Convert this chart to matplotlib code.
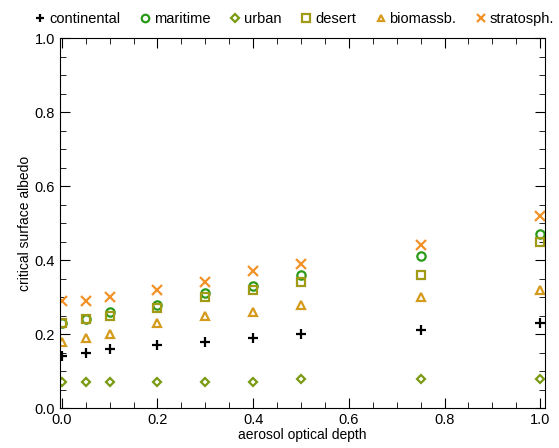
import matplotlib
matplotlib.use("Agg")
import matplotlib.pyplot as plt
from matplotlib.ticker import MultipleLocator

plt.rcParams['font.family'] = ['Liberation Sans', 'DejaVu Sans']
plt.rcParams['font.size'] = 10

aod = [0.0, 0.05, 0.1, 0.2, 0.3, 0.4, 0.5, 0.75, 1.0]
continental = [0.14, 0.15, 0.16, 0.17, 0.18, 0.19, 0.20, 0.21, 0.23]
maritime = [0.23, 0.24, 0.26, 0.28, 0.31, 0.33, 0.36, 0.41, 0.47]
urban = [0.07, 0.07, 0.07, 0.07, 0.07, 0.07, 0.08, 0.08, 0.08]
desert = [0.23, 0.24, 0.25, 0.27, 0.30, 0.32, 0.34, 0.36, 0.45]
biomassb = [0.18, 0.19, 0.20, 0.23, 0.25, 0.26, 0.28, 0.30, 0.32]
stratosph = [0.29, 0.29, 0.30, 0.32, 0.34, 0.37, 0.39, 0.44, 0.52]

# name, values, marker, colour, size
series = [
    ("continental", continental, "+", "black", 7),
    ("maritime", maritime, "o", "#2a9a18", 6),
    ("urban", urban, "D", "#7a9a12", 4.5),
    ("desert", desert, "s", "#a09a14", 6),
    ("biomassb.", biomassb, "^", "#d49a1c", 5.5),
    ("stratosph.", stratosph, "x", "#f29228", 6.5),
]

fig = plt.figure(figsize=(5.59, 4.48), dpi=100)
ax = fig.add_axes([0.107, 0.089, 0.868, 0.826])

for name, vals, m, c, ms in series:
    if m in ("+", "x"):
        ax.plot(aod, vals, linestyle="none", marker=m, color=c, markersize=ms,
                markeredgewidth=1.6, label=name)
    else:
        ax.plot(aod, vals, linestyle="none", marker=m, markerfacecolor="none",
                markeredgecolor=c, markersize=ms, markeredgewidth=1.6, label=name)

ax.set_xlim(-0.004, 1.01)
ax.set_ylim(0, 1.0)
ax.xaxis.set_major_locator(MultipleLocator(0.2))
ax.xaxis.set_minor_locator(MultipleLocator(0.05))
ax.yaxis.set_major_locator(MultipleLocator(0.2))
ax.yaxis.set_minor_locator(MultipleLocator(0.05))
ax.tick_params(which="both", direction="in", top=True, right=True)
ax.tick_params(which="major", length=7, labelsize=10.5)
ax.tick_params(which="minor", length=4)
ax.set_xticklabels([f"{v:.1f}" for v in ax.get_xticks()])
ax.set_yticklabels([f"{v:.1f}" for v in ax.get_yticks()])

ax.set_xlabel("aerosol optical depth", labelpad=1)
ax.set_ylabel("critical surface albedo", labelpad=2)

ax.legend(loc="lower center", bbox_to_anchor=(0.485, 1.01), ncol=6, frameon=False,
          handlelength=0.6, handletextpad=0.3, columnspacing=1.4, borderaxespad=0.2,
          fontsize=10.5, markerscale=0.9)

fig.savefig("out.png", dpi=100)
